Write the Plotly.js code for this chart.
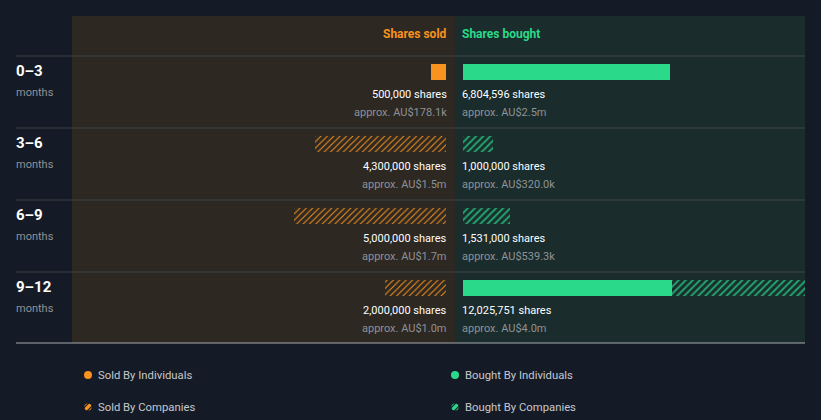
<!DOCTYPE html>
<html>
<head>
<meta charset="utf-8">
<script src="https://cdn.plot.ly/plotly-3.0.1.min.js"></script>
<style>
html,body{margin:0;padding:0;background:#151b26;}
#chart{width:821px;height:420px;}
</style>
</head>
<body>
<div id="chart"></div>
<script>
// ---- data ----
const periods = ["0–3", "3–6", "6–9", "9–12"];
const periodUnit = "months";
const soldByIndividuals = [500000, 0, 0, 0];
const soldByCompanies = [0, 4300000, 5000000, 2000000];
const boughtByIndividuals = [6804596, 0, 0, 6880000];
const boughtByCompanies = [0, 1000000, 1531000, 5145751];
const soldTotalLabels = ["500,000 shares", "4,300,000 shares", "5,000,000 shares", "2,000,000 shares"];
const soldValueLabels = ["approx. AU$178.1k", "approx. AU$1.5m", "approx. AU$1.7m", "approx. AU$1.0m"];
const boughtTotalLabels = ["6,804,596 shares", "1,000,000 shares", "1,531,000 shares", "12,025,751 shares"];
const boughtValueLabels = ["approx. AU$2.5m", "approx. AU$320.0k", "approx. AU$539.3k", "approx. AU$4.0m"];
const legendLabels = ["Sold By Individuals", "Bought By Individuals", "Sold By Companies", "Bought By Companies"];

// ---- styles ----
const W = 821, H = 420;
const M = {l: 72, r: 16, t: 16, b: 77};
const plotW = W - M.l - M.r, plotH = H - M.t - M.b;
const split = 455;               // px boundary between sold and bought panels
const splitFrac = (split - M.l) / plotW;
const pxPerShare = 30.4e-6;
const soldPad = 9, boughtPad = 8;
const headerH = 40, rowH = 72;
const ORANGE = "#f7931e", GREEN = "#2bd98a", GREEN_HATCH = "#22a46e";
const SOLD_BG = "#2d2822", BOUGHT_BG = "#1a2d2c";
const BG = "#151b26";
const FONT = "Roboto, 'Open Sans', sans-serif";
const SOLD_SHIFT = 3, BOUGHT_SHIFT = -3;

const px2px = x => (x - M.l) / plotW;          // page px -> paper x
const py2py = y => (M.t + plotH - y) / plotH;  // page px -> paper y

const rowCenters = periods.map((_, i) => headerH + rowH * i + 16);

const soldRange = [(split - soldPad - M.l) / pxPerShare, -soldPad / pxPerShare];
const boughtRange = [-boughtPad / pxPerShare, (W - M.r - split - boughtPad) / pxPerShare];

function bar(x, xaxis, color, pattern) {
  const t = {
    type: "bar", orientation: "h", x: x, y: rowCenters, width: 16,
    xaxis: xaxis, yaxis: "y", hoverinfo: "skip", showlegend: false,
    marker: {color: color, line: {width: 0}}
  };
  if (pattern) t.marker.pattern = pattern;
  return t;
}

const traces = [
  bar(soldByIndividuals, "x", ORANGE),
  bar(soldByCompanies, "x", SOLD_BG, {shape: "/", fgcolor: ORANGE, bgcolor: SOLD_BG, size: 4.5, solidity: 0.22, fillmode: "replace"}),
  bar(boughtByIndividuals, "x2", GREEN),
  bar(boughtByCompanies, "x2", BOUGHT_BG, {shape: "/", fgcolor: GREEN_HATCH, bgcolor: BOUGHT_BG, size: 5, solidity: 0.4, fillmode: "replace"})
];

const shapes = [
  {type: "rect", xref: "paper", yref: "paper", x0: 0, x1: splitFrac, y0: 0, y1: 1, fillcolor: SOLD_BG, line: {width: 0}, layer: "below"},
  {type: "rect", xref: "paper", yref: "paper", x0: splitFrac, x1: 1, y0: 0, y1: 1, fillcolor: BOUGHT_BG, line: {width: 0}, layer: "below"}
];
periods.forEach((_, i) => {
  shapes.push({type: "line", xref: "paper", yref: "y", x0: px2px(16), x1: 1, y0: headerH + rowH * i, y1: headerH + rowH * i,
    line: {color: "#3f4244", width: 1}, layer: "above"});
});
shapes.push({type: "line", xref: "paper", yref: "paper", x0: px2px(16), x1: 1, y0: 0, y1: 0, line: {color: "#a6aaae", width: 1}});

const annotations = [
  {xref: "x", yref: "y", x: 0, y: 18, xanchor: "right", yanchor: "middle", xshift: SOLD_SHIFT, text: "<b>Shares sold</b>", showarrow: false,
   font: {family: FONT, size: 12, color: ORANGE}},
  {xref: "x2", yref: "y", x: 0, y: 18, xanchor: "left", yanchor: "middle", xshift: BOUGHT_SHIFT, text: "<b>Shares bought</b>", showarrow: false,
   font: {family: FONT, size: 12, color: GREEN}}
];
periods.forEach((p, i) => {
  const top = headerH + rowH * i;
  annotations.push(
    {xref: "paper", yref: "y", x: px2px(16), y: top + 14.5, xanchor: "left", yanchor: "middle", xshift: -2, text: "<b>" + p + "</b>", showarrow: false,
     font: {family: FONT, size: 15, color: "#ffffff"}},
    {xref: "paper", yref: "y", x: px2px(16), y: top + 36, xanchor: "left", yanchor: "middle", xshift: -2, text: periodUnit, showarrow: false,
     font: {family: FONT, size: 11, color: "#8e9196"}},
    {xref: "x", yref: "y", x: 0, y: top + 38, xanchor: "right", yanchor: "middle", xshift: SOLD_SHIFT, text: soldTotalLabels[i], showarrow: false,
     font: {family: FONT, size: 11, color: "#ffffff"}},
    {xref: "x", yref: "y", x: 0, y: top + 56, xanchor: "right", yanchor: "middle", xshift: SOLD_SHIFT, text: soldValueLabels[i], showarrow: false,
     font: {family: FONT, size: 11, color: "#8e9196"}},
    {xref: "x2", yref: "y", x: 0, y: top + 38, xanchor: "left", yanchor: "middle", xshift: BOUGHT_SHIFT, text: boughtTotalLabels[i], showarrow: false,
     font: {family: FONT, size: 11, color: "#ffffff"}},
    {xref: "x2", yref: "y", x: 0, y: top + 56, xanchor: "left", yanchor: "middle", xshift: BOUGHT_SHIFT, text: boughtValueLabels[i], showarrow: false,
     font: {family: FONT, size: 11, color: "#8e9196"}}
  );
});

// legend (custom)
const legendPos = [[88, 375], [455, 375], [88, 407], [455, 407]];
const legendColors = [ORANGE, GREEN, ORANGE, GREEN];
legendLabels.forEach((lab, i) => {
  const [cx, cy] = legendPos[i];
  const r = 4;
  if (i < 2) {
    shapes.push({type: "circle", xref: "paper", yref: "paper", x0: px2px(cx - r), x1: px2px(cx + r), y0: py2py(cy + r), y1: py2py(cy - r),
      fillcolor: legendColors[i], line: {width: 0}});
  } else {
    const c = legendColors[i];
    const rr = 3.6;
    shapes.push({type: "circle", xref: "paper", yref: "paper", x0: px2px(cx - rr), x1: px2px(cx + rr), y0: py2py(cy + rr), y1: py2py(cy - rr),
      fillcolor: c, line: {width: 0}});
    [-1.6, 1.6].forEach(o => {
      shapes.push({type: "line", xref: "paper", yref: "paper",
        x0: px2px(cx - 4 + o), y0: py2py(cy + 4 + o),
        x1: px2px(cx + 4 + o), y1: py2py(cy - 4 + o),
        line: {color: BG, width: 1.3}});
    });
  }
  annotations.push({xref: "paper", yref: "paper", x: px2px(cx + 10), y: py2py(cy), xanchor: "left", yanchor: "middle", xshift: -2,
    text: lab, showarrow: false, font: {family: FONT, size: 11.3, color: "#c5c8cc"}});
});

const hiddenAxis = {showgrid: false, zeroline: false, showticklabels: false, ticks: "", showline: false, fixedrange: true};

const layout = {
  width: W, height: H,
  margin: M,
  paper_bgcolor: BG, plot_bgcolor: "rgba(0,0,0,0)",
  barmode: "stack", bargap: 0,
  showlegend: false,
  font: {family: FONT},
  xaxis: Object.assign({}, hiddenAxis, {domain: [0, splitFrac], range: soldRange}),
  xaxis2: Object.assign({}, hiddenAxis, {domain: [splitFrac, 1], range: boughtRange, anchor: "y"}),
  yaxis: Object.assign({}, hiddenAxis, {range: [plotH, 0]}),
  shapes: shapes,
  annotations: annotations
};

Plotly.newPlot("chart", traces, layout, {displayModeBar: false, staticPlot: true});
</script>
</body>
</html>
